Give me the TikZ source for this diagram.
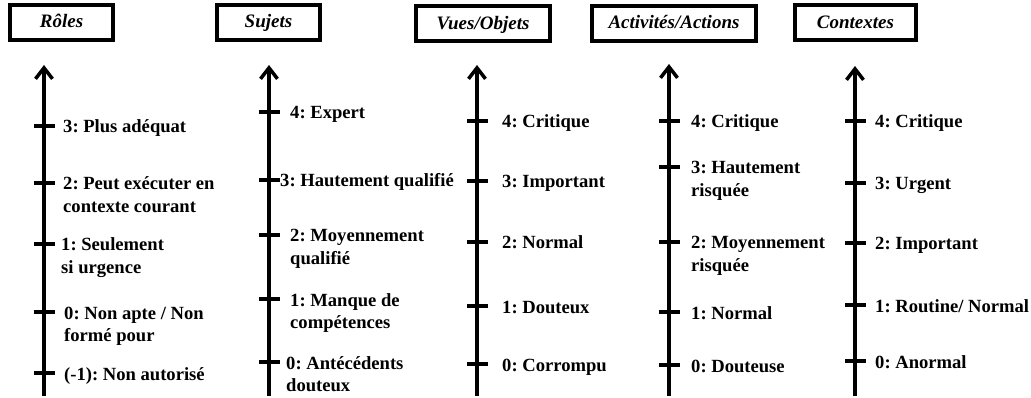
\documentclass[tikz,border=0pt]{standalone}
\usepackage{fontspec}
\setmainfont{Liberation Serif}
\usetikzlibrary{arrows.meta}
\frenchspacing
% two-line label whose baseline is its first line
\newcommand{\twolines}[2]{\begin{tabular}[t]{@{}l@{}}#1\\#2\end{tabular}}
\begin{document}
\begin{tikzpicture}[x=1pt,y=-1pt,
  titlebox/.style={draw,line width=4pt,inner sep=0pt,
    text height=14pt,text depth=3pt,minimum height=35pt,
    font=\fontsize{19}{23}\selectfont\bfseries\itshape},
  axis/.style={line width=3.5pt,-{Straight Barb[length=11pt,width=17pt]}},
  tickmark/.style={line width=4pt},
  lbl/.style={anchor=base west,inner sep=0pt,
    font=\fontsize{18.6}{22.5}\selectfont\bfseries}]
\useasboundingbox (0,0) rectangle (1031,398);

% column headers
\node[titlebox,minimum width=103pt] (troles) at (61.5,22.5) {Rôles};
\node[titlebox,minimum width=103pt] (tsujets) at (268.5,22.5) {Sujets};
\node[titlebox,minimum width=134pt] (tvues) at (483,24) {Vues/Objets};
\node[titlebox,minimum width=164pt] (tact) at (674,23.5) {Activités/Actions};
\node[titlebox,minimum width=121pt] (tctx) at (855.5,23) {Contextes};

% axes
\coordinate (rb) at (44,396);  \coordinate (rt) at (44,65);
\coordinate (sb) at (269,396); \coordinate (st) at (269,65);
\coordinate (vb) at (477,396); \coordinate (vt) at (477,65);
\coordinate (ab) at (669,396); \coordinate (at) at (669,64);
\coordinate (cb) at (855,396); \coordinate (ct) at (855,66);
\draw[axis] (rb) -- (rt);
\draw[axis] (sb) -- (st);
\draw[axis] (vb) -- (vt);
\draw[axis] (ab) -- (at);
\draw[axis] (cb) -- (ct);

% Rôles
\foreach \y in {126,183,244,312,373} \draw[tickmark] (34,\y) -- (55,\y);
\node[lbl] (r3) at (63,133) {3: Plus adéquat};
\node[lbl] (r2) at (63,190) {\twolines{2: Peut exécuter en}{contexte courant}};
\node[lbl] (r1) at (61,251) {\twolines{1: Seulement}{si urgence}};
\node[lbl] (r0) at (64,319) {\twolines{0: Non apte / Non}{formé pour}};
\node[lbl] (rm) at (64,380) {(-1): Non autorisé};

% Sujets
\foreach \y in {112,180,235,299,362} \draw[tickmark] (259,\y) -- (280,\y);
\node[lbl] (s4) at (290,119) {4: Expert};
\node[lbl] (s3) at (280,187) {3: Hautement qualifié};
\node[lbl] (s2) at (290,242) {\twolines{2: Moyennement}{qualifié}};
\node[lbl] (s1) at (290,306) {\twolines{1: Manque de}{compétences}};
\node[lbl] (s0) at (286,369) {\twolines{0: Antécédents}{douteux}};

% Vues/Objets
\foreach \y in {121,181,242,306,364} \draw[tickmark] (467,\y) -- (488,\y);
\node[lbl] (v4) at (502,128) {4: Critique};
\node[lbl] (v3) at (502,188) {3: Important};
\node[lbl] (v2) at (502,249) {2: Normal};
\node[lbl] (v1) at (502,313) {1: Douteux};
\node[lbl] (v0) at (502,371) {0: Corrompu};

% Activités/Actions
\foreach \y in {121,167,242,312,365} \draw[tickmark] (659,\y) -- (680,\y);
\node[lbl] (a4) at (691,128) {4: Critique};
\node[lbl] (a3) at (691,174) {\twolines{3: Hautement}{risquée}};
\node[lbl] (a2) at (691,249) {\twolines{2: Moyennement}{risquée}};
\node[lbl] (a1) at (691,319) {1: Normal};
\node[lbl] (a0) at (691,372) {0: Douteuse};

% Contextes
\foreach \y in {121,183,243,305,361} \draw[tickmark] (845,\y) -- (866,\y);
\node[lbl] (c4) at (875,128) {4: Critique};
\node[lbl] (c3) at (875,190) {3: Urgent};
\node[lbl] (c2) at (875,250) {2: Important};
\node[lbl] (c1) at (875,312) {1: Routine/ Normal};
\node[lbl] (c0) at (875,368) {0: Anormal};
\end{tikzpicture}
\end{document}
